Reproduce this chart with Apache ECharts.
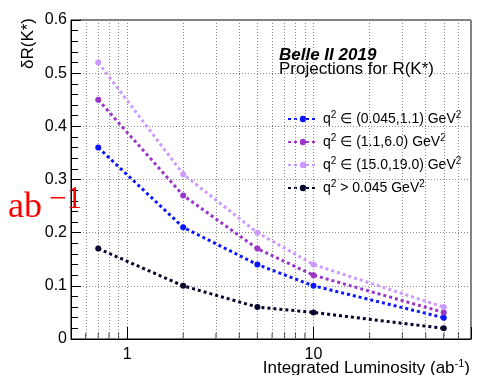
<!DOCTYPE html>
<html><head><meta charset="utf-8">
<script src="https://cdn.jsdelivr.net/npm/echarts@6/dist/echarts.min.js"></script>
<style>html,body{margin:0;padding:0;background:#fff}#c{width:478px;height:375px}</style>
</head><body><div id="c"></div>
<script>
// ---- data ----
const luminosity = [0.7, 2, 5, 10, 50];            // ab^-1
const seriesNames = [
  'q² ∈ (0.045,1.1) GeV²',
  'q² ∈ (1.1,6.0) GeV²',
  'q² ∈ (15.0,19.0) GeV²',
  'q² > 0.045 GeV²'
];
const lowQ2  = [0.36, 0.21, 0.14, 0.10, 0.04];
const midQ2  = [0.45, 0.27, 0.17, 0.12, 0.05];
const highQ2 = [0.52, 0.31, 0.20, 0.14, 0.06];
const allQ2  = [0.17, 0.10, 0.06, 0.05, 0.02];
const seriesColors = ['#0a14ff', '#9a36c8', '#cc99ff', '#05052e'];
const xMajorLabels = [1, 10];
const xMinorTicks = [0.6, 0.7, 0.8, 0.9, 2, 3, 4, 5, 6, 7, 8, 9, 20, 30, 40, 50, 60];

const FONT = 'Liberation Sans, Arial, sans-serif';
const chart = echarts.init(document.getElementById('c'), null, {renderer: 'canvas'});

function lineSeries(name, vals, color) {
  return {
    type: 'line', name: name,
    data: luminosity.map((x, i) => [x, vals[i]]),
    symbol: 'circle', symbolSize: 6, showSymbol: true,
    itemStyle: {color: color},
    lineStyle: {color: color, width: 3, type: [3, 3]},
    z: 5, animation: false
  };
}
const gridStyle = {color: '#8a8a8a', width: 1, type: [1, 2]};

chart.setOption({
  animation: false,
  backgroundColor: '#fff',
  grid: {left: 71, right: 7, top: 20, bottom: 36, show: true, borderColor: '#000', borderWidth: 1, backgroundColor: 'transparent'},
  xAxis: {
    type: 'log', logBase: 10, min: 0.5, max: 70,
    axisLine: {lineStyle: {color: '#000', width: 1}},
    axisTick: {inside: true, length: 12, lineStyle: {color: '#000'}},
    axisLabel: {
      margin: 8, color: '#000', fontSize: 16, fontFamily: FONT,
      formatter: v => (xMajorLabels.some(m => Math.abs(m - v) < 1e-9) ? String(Math.round(v)) : '')
    },
    splitLine: {show: true, lineStyle: gridStyle}
  },
  yAxis: {
    type: 'value', min: 0, max: 0.6, interval: 0.1,
    axisLine: {show: true, lineStyle: {color: '#000', width: 1}},
    axisTick: {show: true, inside: true, length: 10, lineStyle: {color: '#000'}},
    minorTick: {show: true, splitNumber: 5, length: 7, lineStyle: {color: '#000'}},
    axisLabel: {margin: 4, color: '#000', fontSize: 16, fontFamily: FONT},
    splitLine: {show: true, lineStyle: gridStyle}
  },
  legend: {
    data: seriesNames,
    orient: 'vertical', left: 282, top: 105,
    itemWidth: 30, itemHeight: 8, itemGap: 5,
    textStyle: {
      color: '#000', fontSize: 14, fontFamily: FONT, lineHeight: 18,
      rich: {s: {fontSize: 10, fontFamily: FONT, color: '#000', verticalAlign: 'top', lineHeight: 10}}
    },
    formatter: n => n.replace(/²/g, '{s|2}')
  },
  series: [
    lineSeries(seriesNames[0], lowQ2, seriesColors[0]),
    lineSeries(seriesNames[1], midQ2, seriesColors[1]),
    lineSeries(seriesNames[2], highQ2, seriesColors[2]),
    lineSeries(seriesNames[3], allQ2, seriesColors[3]),
    {
      type: 'scatter', silent: true, z: 4,
      data: xMinorTicks.map(v => [v, 0]),
      symbol: 'rect', symbolSize: [1, 6], symbolOffset: [0, -3],
      itemStyle: {color: '#000'},
      markLine: {
        silent: true, symbol: 'none', label: {show: false},
        lineStyle: gridStyle, animation: false,
        data: xMinorTicks.map(v => ({xAxis: v}))
      }
    }
  ],
  graphic: [
    {type: 'text', x: 28, y: 18, rotation: Math.PI / 2, z: 10,
     style: {text: 'δR(K*)', font: '17px ' + FONT, fill: '#000', align: 'right', verticalAlign: 'middle'}},
    {type: 'text', x: 470, y: 368, z: 10,
     style: {text: 'Integrated Luminosity (ab{s|-1})', fontSize: 17, fontFamily: FONT, fill: '#000',
             align: 'right', verticalAlign: 'middle', lineHeight: 20,
             rich: {s: {fontSize: 11, fontFamily: FONT, fill: '#000', verticalAlign: 'top', lineHeight: 11}}}},
    {type: 'text', x: 279, y: 55, z: 10,
     style: {text: 'Belle II 2019', font: 'italic bold 17px ' + FONT, fill: '#000', verticalAlign: 'middle'}},
    {type: 'text', x: 279, y: 69, z: 10,
     style: {text: 'Projections for R(K*)', font: '17px ' + FONT, fill: '#000', verticalAlign: 'middle'}},
    {type: 'text', x: 8, y: 208, z: 10,
     style: {text: 'ab', font: '36px "Liberation Serif", serif', fill: '#ff0000', verticalAlign: 'middle'}},
    {type: 'text', x: 49, y: 199.5, z: 10,
     style: {text: '−1', font: '31px "Liberation Serif", serif', fill: '#ff0000', verticalAlign: 'middle'}}
  ]
});
</script>
</body></html>
